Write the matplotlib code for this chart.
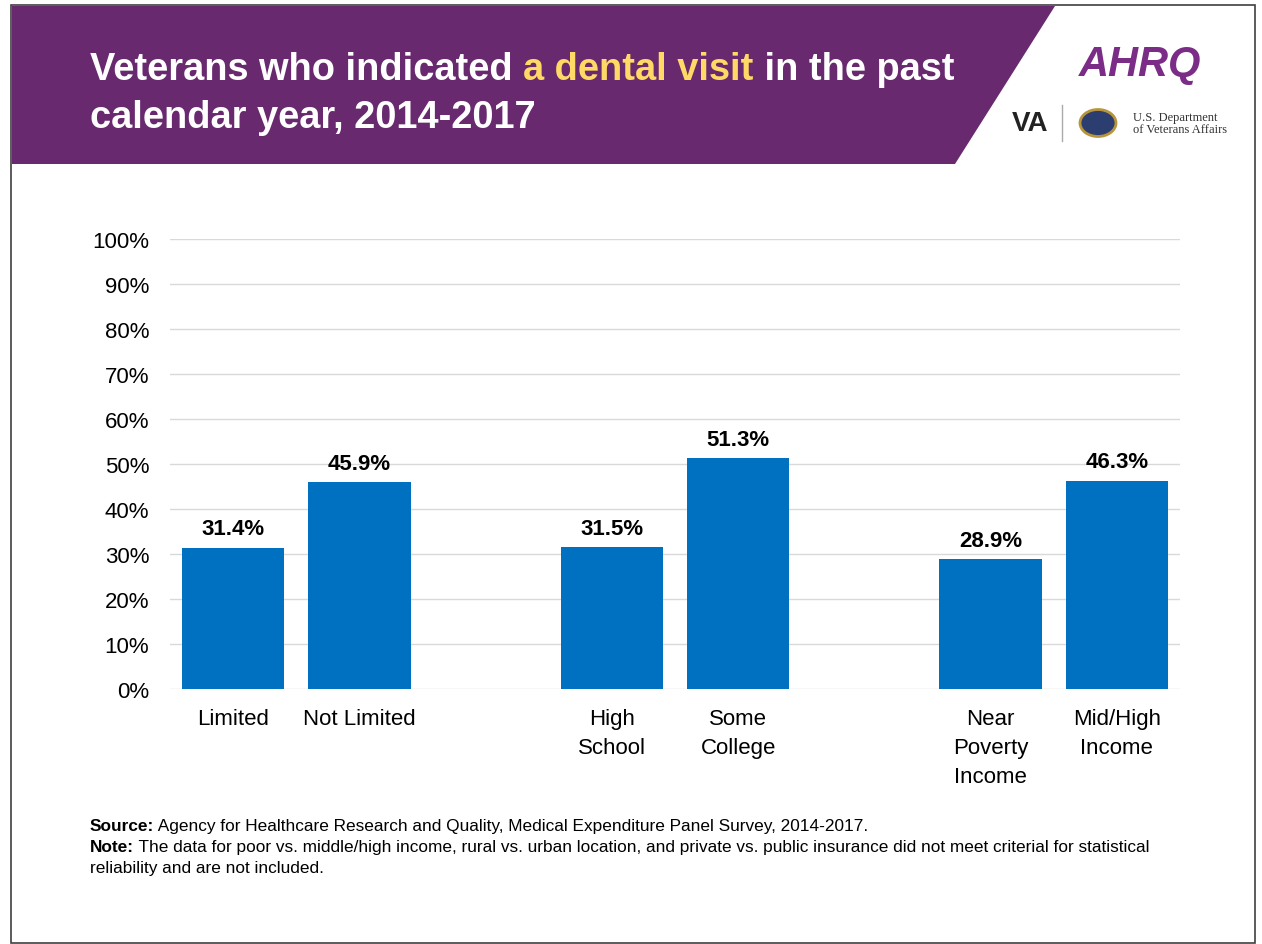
import matplotlib
matplotlib.use("Agg")
import matplotlib.pyplot as plt
from matplotlib.patches import Polygon, Circle, Rectangle
from matplotlib.lines import Line2D

# data
categories = ["Limited", "Not Limited", "High\nSchool", "Some\nCollege",
              "Near\nPoverty\nIncome", "Mid/High\nIncome"]
positions = [0, 1, 3, 4, 6, 7]
values = [31.4, 45.9, 31.5, 51.3, 28.9, 46.3]
yticks = list(range(0, 101, 10))

purple = "#68296f"
blue = "#0070c0"
gold = "#ffd966"

plt.rcParams["font.family"] = ["Liberation Sans", "DejaVu Sans"]

fig = plt.figure(figsize=(12.62, 9.45), dpi=100)
W, H = 1262, 945

def fx(px):
    return px / W

def fy(py):
    return 1 - py / H

# slide border and purple banner
fig.patches.append(Rectangle((fx(11), fy(944)), fx(1255) - fx(11), fy(6) - fy(944),
                             transform=fig.transFigure, fill=False, ec="#404040", lw=1.2))
fig.patches.append(Polygon([(fx(12), fy(7)), (fx(1055), fy(7)), (fx(955), fy(165)), (fx(12), fy(165))],
                           closed=True, transform=fig.transFigure, fc=purple, ec="none"))

# title with highlighted words
renderer = fig.canvas.get_renderer()
x0 = fx(90)
pieces = [("Veterans who indicated ", "white"), ("a dental visit", gold), (" in the past", "white")]
x = x0
for txt, col in pieces:
    t = fig.text(x, fy(80), txt, color=col, fontsize=27.4, fontweight="bold", va="baseline", ha="left")
    x = x + t.get_window_extent(renderer=renderer).width / W
fig.text(x0, fy(128), "calendar year, 2014-2017", color="white", fontsize=27.4,
         fontweight="bold", va="baseline", ha="left")

# logos (rough stand-ins)
fig.text(fx(1140), fy(65), "AHRQ", color="#7b2c87", fontsize=30, fontweight="bold",
         fontstyle="italic", ha="center", va="center")
fig.text(fx(1030), fy(124), "VA", color="#222222", fontsize=20, fontweight="bold",
         ha="center", va="center")
fig.lines.append(Line2D([fx(1062), fx(1062)], [fy(106), fy(142)], transform=fig.transFigure,
                        color="#aaaaaa", lw=1))
fig.patches.append(Circle((fx(1098), fy(124)), 18 / W, transform=fig.transFigure,
                          fc="#2c3e70", ec="#b8953a", lw=2))
fig.text(fx(1133), fy(124), "U.S. Department\nof Veterans Affairs", color="#333333",
         fontsize=9, family=["Liberation Serif", "DejaVu Serif"], ha="left", va="center",
         linespacing=1.0)

# chart
ax = fig.add_axes([fx(170), fy(690), fx(1180) - fx(170), fy(240) - fy(690)])
ax.bar(positions, values, width=0.81, color=blue, zorder=3)
for p, v in zip(positions, values):
    ax.annotate(f"{v:.1f}%", (p, v), xytext=(0, 6), textcoords="offset points",
                ha="center", va="bottom", fontsize=16, fontweight="bold")
ax.set_xlim(-0.5, 7.5)
ax.set_ylim(0, 100)
ax.set_yticks(yticks)
ax.set_yticklabels([f"{t}%" for t in yticks], fontsize=16)
ax.set_xticks(positions)
ax.set_xticklabels(categories, fontsize=16, linespacing=1.5)
ax.tick_params(axis="both", length=0)
ax.tick_params(axis="x", pad=14)
ax.tick_params(axis="y", pad=15)
ax.grid(axis="y", color="#d9d9d9", lw=1, zorder=0)
for s in ax.spines.values():
    s.set_visible(False)

# footer: bold lead-in followed by regular text
fs = 12.4
src_b = fig.text(fx(90), fy(831), "Source:", fontsize=fs, fontweight="bold", va="baseline")
note_b = fig.text(fx(90), fy(852), "Note:", fontsize=fs, fontweight="bold", va="baseline")
w1 = src_b.get_window_extent(renderer=renderer).width / W
w2 = note_b.get_window_extent(renderer=renderer).width / W
fig.text(fx(90) + w1, fy(831), " Agency for Healthcare Research and Quality, Medical Expenditure Panel Survey, 2014-2017.",
         fontsize=fs, va="baseline")
fig.text(fx(90) + w2, fy(852), " The data for poor vs. middle/high income, rural vs. urban location, and private vs. public insurance did not meet criterial for statistical",
         fontsize=fs, va="baseline")
fig.text(fx(90), fy(873), "reliability and are not included.", fontsize=fs, va="baseline")

fig.savefig("out.png", dpi=100)
